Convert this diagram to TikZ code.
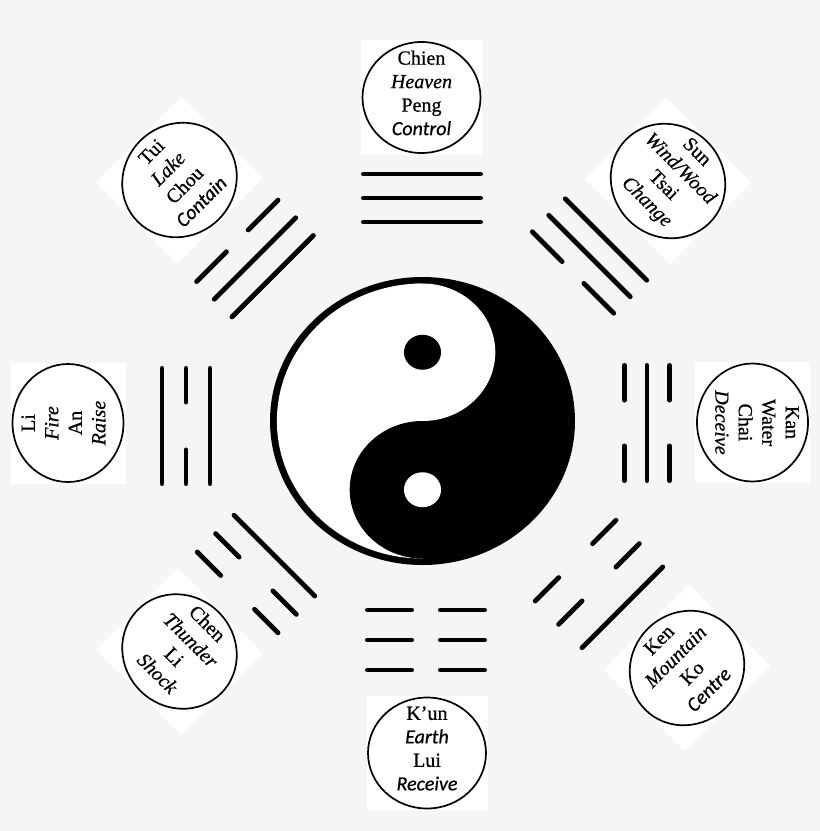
\documentclass[tikz,border=0pt]{standalone}
\usepackage{fontspec}
\setmainfont{Liberation Serif}[FakeBold=0.6]
\newfontfamily\calfont{Carlito}[FakeBold=0.6]
\usetikzlibrary{shapes.geometric,calc}
\definecolor{bgc}{HTML}{F5F5F5}
\tikzset{
  bar/.style={line width=4.8pt, line cap=round, draw=black},
  labelbg/.style={rectangle, fill=white, draw=none, minimum width=121pt, minimum height=115pt, inner sep=0pt, outer sep=0pt},
  labelring/.style={ellipse, draw=black, line width=1.7pt, minimum width=118pt, minimum height=111pt, inner sep=0pt},
  labeltext/.style={align=center, inner sep=0pt, text=black, font=\fontsize{20}{23.5}\selectfont}
}
\newcommand\trYang[2]{\draw[bar] ({-#2+2.4},#1) -- ({#2-2.4},#1);}
\newcommand\trYin[3]{\draw[bar] ({-#2+2.4},#1) -- ({-#3-2.4},#1) ({#3+2.4},#1) -- ({#2-2.4},#1);}
\newcommand\baguaLabel[4]{%
  \node[labelbg, rotate=#3] (#1bg) at (#2) {};
  \node[labelring, rotate=#3] (#1) at (#2) {};
  \node[labeltext, rotate=#3] (#1t) at ($(#1.center)!4.5pt!(#1.north)$) {#4};
}
\begin{document}
\begin{tikzpicture}[x=1pt,y=-1pt]
\useasboundingbox (0,0) rectangle (820,831);
\fill[bgc] (0,0) rectangle (820,831);
% yin-yang
\begin{scope}[shift={(422.5,421)}, xscale=1.059]
  \fill[black] (0,0) circle (144);
  \fill[white] (0,0) circle (137.5);
  \begin{scope}
    \clip (0,-140) rectangle (140,140);
    \fill[black] (0,0) circle (138);
  \end{scope}
  \fill[white] (0,-68.75) circle (68.75);
  \fill[black] (0,68.75) circle (68.75);
  \fill[black] (0,-68.75) circle (17.5);
  \fill[white] (0,68.75) circle (17.5);
\end{scope}
% trigrams
\begin{scope}[shift={(422,198)}]
  \trYang{-24}{61} \trYang{0}{61} \trYang{24}{61}
\end{scope}
\begin{scope}[shift={(426,640)}]
  \trYin{-30}{61}{12} \trYin{0}{61}{12} \trYin{30}{61}{12}
\end{scope}
\begin{scope}[shift={(647,423)}, rotate=-90]
  \trYin{-22.5}{60}{20.5} \trYang{0}{60} \trYin{22.5}{60}{20.5}
\end{scope}
\begin{scope}[shift={(186,426)}, rotate=90]
  \trYang{-24}{60} \trYin{0}{60}{21.5} \trYang{24}{60}
\end{scope}
\begin{scope}[shift={(589.5,256)}, rotate=-45]
  \trYang{-23.3}{60} \trYang{0}{60} \trYin{23.3}{60}{13}
\end{scope}
\begin{scope}[shift={(255,258.5)}, rotate=45]
  \trYin{-25}{60}{13} \trYang{0}{60} \trYang{25}{60}
\end{scope}
\begin{scope}[shift={(256,574)}, rotate=-45]
  \trYang{-26}{59.5} \trYin{0}{59.5}{21.5} \trYin{26}{59.5}{21.5}
\end{scope}
\begin{scope}[shift={(599,584)}, rotate=45]
  \trYin{-33}{59.5}{21.5} \trYin{0}{59.5}{21.5} \trYang{33}{59.5}
\end{scope}
% labels
\baguaLabel{chien}{421.5,97.5}{0}{Chien\\\textit{Heaven}\\Peng\\{\calfont\itshape Control}}
\baguaLabel{sun}{668,181}{-45}{Sun\\\textit{Wind/Wood}\\Tsai\\\textit{Change}}
\baguaLabel{kan}{752.5,422.5}{-90}{Kan\\Water\\Chai\\\textit{Deceive}}
\baguaLabel{ken}{687,668}{45}{Ken\\\textit{Mountain}\\Ko\\{\calfont\itshape Centre}}
\baguaLabel{kun}{427,753}{0}{K’un\\{\calfont\itshape Earth}\\Lui\\{\calfont\itshape Receive}}
\baguaLabel{chen}{179.5,651.5}{-45}{Chen\\\textit{Thunder}\\Li\\\textit{Shock}}
\baguaLabel{li}{68,423}{90}{Li\\\textit{Fire}\\An\\\textit{Raise}}
\baguaLabel{tui}{179.5,180}{45}{Tui\\\textit{Lake}\\Chou\\{\calfont\itshape Contain}}
\end{tikzpicture}
\end{document}
